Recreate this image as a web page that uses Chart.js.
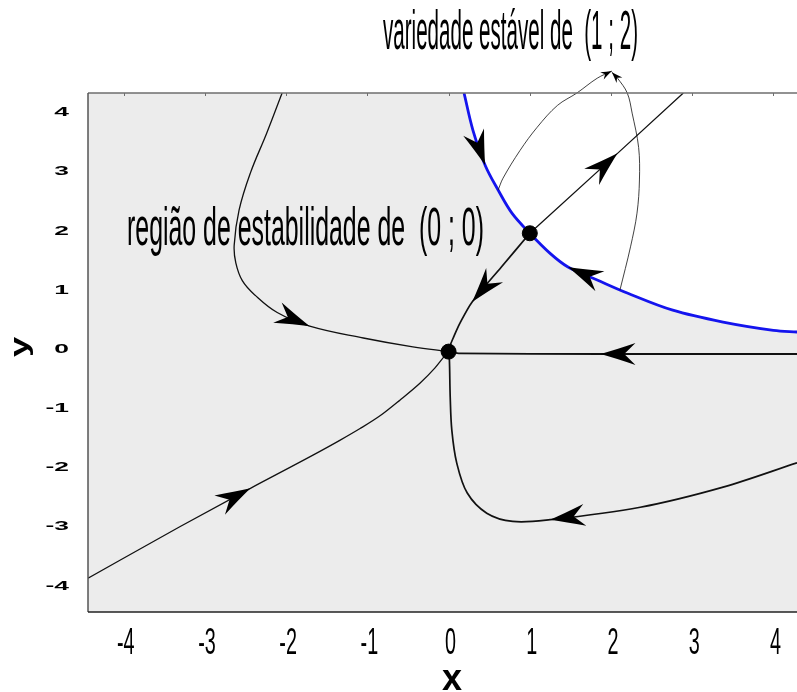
<!DOCTYPE html>
<html>
<head>
<meta charset="utf-8">
<script src="https://cdn.jsdelivr.net/npm/chart.js@4.4.1/dist/chart.umd.min.js"></script>
<style>
  html, body { margin: 0; padding: 0; background: #ffffff; }
  canvas { display: block; }
</style>
</head>
<body>
<canvas id="phase" width="797" height="692"></canvas>
<script>
// Tick values on both axes
const xTicks = [-4, -3, -2, -1, 0, 1, 2, 3, 4];
const yTicks = [-4, -3, -2, -1, 0, 1, 2, 3, 4];

// Equilibrium points
const equilibria = [[0, 0], [1, 2]];

// Stable manifold of (1 ; 2) (boundary of the stability region of the origin)
const stableManifold = [[0.19, 4.37], [0.30, 3.74], [0.45, 3.15], [0.61, 2.73], [0.78, 2.34], [1, 2],
  [1.25, 1.66], [1.47, 1.43], [1.83, 1.21], [2.20, 0.99], [2.76, 0.70], [3.38, 0.50], [4.00, 0.36], [4.30, 0.33]];

// Trajectories, each listed in the direction of the flow
const orbitUpperLeft = [[-2.05, 4.37], [-2.24, 3.69], [-2.44, 3.02], [-2.58, 2.39], [-2.64, 1.80], [-2.62, 1.50],
  [-2.54, 1.20], [-2.38, 0.95], [-2.11, 0.66], [-1.71, 0.43], [-1.05, 0.23], [-0.44, 0.08], [0, 0]];
const orbitLowerLeft = [[-4.44, -3.83], [-3.31, -2.96], [-2.44, -2.31], [-1.67, -1.75], [-1.34, -1.50], [-1.09, -1.30],
  [-0.84, -1.08], [-0.60, -0.82], [-0.35, -0.53], [-0.17, -0.28], [-0.04, -0.06], [0, 0]];
const orbitAxis = [[4.29, -0.04], [1.87, -0.04], [0.14, -0.03], [0, 0]];
const orbitLowerRight = [[4.29, -1.88], [3.38, -2.29], [2.36, -2.63], [1.25, -2.84], [0.79, -2.87], [0.47, -2.73],
  [0.23, -2.39], [0.10, -1.88], [0.04, -1.33], [0.02, -0.77], [0.01, -0.14], [0, 0]];
const unstableOut = [[1, 2], [2.08, 3.35], [2.89, 4.37]];
const unstableIn = [[1, 2], [0.65, 1.43], [0.29, 0.84], [0.14, 0.48], [0.06, 0.24], [0.015, 0.09], [0, 0]];

// Leader lines from the manifold up to its caption
const leaderLeft = [[0.61, 2.73], [0.67, 2.93], [0.88, 3.40], [1.09, 3.79], [1.34, 4.16], [1.58, 4.37], [1.83, 4.62], [2.01, 4.74]];
const leaderRight = [[2.11, 1.04], [2.24, 1.77], [2.32, 2.34], [2.35, 2.90], [2.34, 3.45], [2.26, 4.03], [2.20, 4.37], [2.08, 4.62], [2.01, 4.72]];

const X_MIN = -4.44, X_MAX = 4.29, Y_MIN = -4.40, Y_MAX = 4.37;
const FONT = '"Liberation Sans", Arial, sans-serif';

const toXY = pts => pts.map(([x, y]) => ({ x, y }));

function curve(label, pts, extra) {
  return Object.assign({
    label,
    data: toXY(pts),
    showLine: true,
    pointRadius: 0,
    pointHoverRadius: 0,
    borderColor: '#111111',
    borderWidth: 1.3,
    tension: 0.35,
    fill: false
  }, extra || {});
}

// Flow arrows: dataset label, index of the tip point, sense along the list
const flowArrows = [
  { set: 'manifold', at: 2, dir: 1 },
  { set: 'manifold', at: 7, dir: -1 },
  { set: 'upperLeft', at: 9, dir: 1 },
  { set: 'lowerLeft', at: 2, dir: 1 },
  { set: 'axis', at: 1, dir: 1 },
  { set: 'lowerRight', at: 3, dir: 1 },
  { set: 'out', at: 1, dir: 1 },
  { set: 'in', at: 2, dir: 1 },
  { set: 'leaderL', at: 7, dir: 1, small: true },
  { set: 'leaderR', at: 8, dir: 1, small: true }
];

function drawArrowHead(ctx, tx, ty, ux, uy, L, W) {
  const px = -uy, py = ux;
  const pt = (a, b) => [tx + ux * a + px * b, ty + uy * a + py * b];
  const w1 = pt(-L, W / 2), w2 = pt(-L, -W / 2), n = pt(-0.68 * L, 0);
  const c1 = pt(-0.45 * L, 0.2 * W), c2 = pt(-0.45 * L, -0.2 * W);
  ctx.beginPath();
  ctx.moveTo(tx, ty);
  ctx.quadraticCurveTo(c1[0], c1[1], w1[0], w1[1]);
  ctx.lineTo(n[0], n[1]);
  ctx.lineTo(w2[0], w2[1]);
  ctx.quadraticCurveTo(c2[0], c2[1], tx, ty);
  ctx.closePath();
  ctx.fill();
}

function stretchText(ctx, text, left, baseline, font, width) {
  ctx.save();
  ctx.font = font;
  const w = ctx.measureText(text).width;
  ctx.translate(left, baseline);
  ctx.scale(width / w, 1);
  ctx.textAlign = 'left';
  ctx.textBaseline = 'alphabetic';
  ctx.fillStyle = '#000';
  ctx.fillText(text, 0, 0);
  ctx.restore();
}

const panelPlugin = {
  id: 'panel',
  beforeDraw(chart) {
    const { ctx, chartArea: a } = chart;
    ctx.save();
    ctx.fillStyle = '#ffffff';
    ctx.fillRect(0, 0, chart.width, chart.height);
    ctx.fillStyle = '#ececec';
    ctx.fillRect(a.left, a.top, a.right - a.left, a.bottom - a.top);
    ctx.restore();
  },
  afterDatasetsDraw(chart) {
    const { ctx } = chart;
    const xs = chart.scales.x, ys = chart.scales.y;
    ctx.save();
    ctx.fillStyle = '#000';
    flowArrows.forEach(ar => {
      const ds = chart.data.datasets.find(d => d.label === ar.set);
      const tip = ds.data[ar.at];
      const prev = ds.data[ar.at - ar.dir];
      const tx = xs.getPixelForValue(tip.x), ty = ys.getPixelForValue(tip.y);
      const qx = xs.getPixelForValue(prev.x), qy = ys.getPixelForValue(prev.y);
      const len = Math.hypot(tx - qx, ty - qy) || 1;
      const L = ar.small ? 11 : 35, W = ar.small ? 8 : 22;
      drawArrowHead(ctx, tx, ty, (tx - qx) / len, (ty - qy) / len, L, W);
    });
    ctx.restore();
  },
  afterDraw(chart) {
    const { ctx, chartArea: a } = chart;
    const xs = chart.scales.x, ys = chart.scales.y;
    ctx.save();
    // frame
    ctx.lineWidth = 1.5;
    ctx.strokeStyle = '#6e6e6e';
    ctx.beginPath(); ctx.moveTo(a.left, a.top); ctx.lineTo(a.right, a.top); ctx.stroke();
    ctx.strokeStyle = '#555555';
    ctx.beginPath(); ctx.moveTo(a.left, a.top); ctx.lineTo(a.left, a.bottom); ctx.stroke();
    ctx.strokeStyle = '#222222';
    ctx.beginPath(); ctx.moveTo(a.left, a.bottom); ctx.lineTo(a.right, a.bottom); ctx.stroke();
    ctx.lineWidth = 1;
    ctx.strokeStyle = '#6e6e6e';
    xTicks.forEach(v => {
      const px = Math.round(xs.getPixelForValue(v)) + 0.5;
      ctx.beginPath(); ctx.moveTo(px, a.top); ctx.lineTo(px, a.top + 3); ctx.stroke();
    });

    ctx.fillStyle = '#000';
    // x tick labels (tall, narrow)
    xTicks.forEach(v => {
      const px = xs.getPixelForValue(v) + 2;
      ctx.save();
      ctx.translate(px, 654);
      ctx.scale(0.55, 1);
      ctx.font = '36px ' + FONT;
      ctx.textAlign = 'center';
      ctx.textBaseline = 'alphabetic';
      ctx.fillText(String(v), 0, 0);
      ctx.restore();
    });
    // y tick labels (short, wide)
    yTicks.forEach(v => {
      const py = ys.getPixelForValue(v) - 2;
      ctx.save();
      ctx.translate(69, py);
      ctx.scale(2.2, 1);
      ctx.font = 'bold 12px ' + FONT;
      ctx.textAlign = 'right';
      ctx.textBaseline = 'middle';
      ctx.fillText(String(v), 0, 0);
      ctx.restore();
    });
    // axis titles
    ctx.save();
    ctx.font = 'bold 36px ' + FONT;
    ctx.textAlign = 'center';
    ctx.textBaseline = 'alphabetic';
    ctx.fillText('x', 452, 690);
    ctx.restore();
    ctx.save();
    ctx.translate(24, 347);
    ctx.rotate(-Math.PI / 2);
    ctx.scale(1.45, 1);
    ctx.font = 'bold 25px ' + FONT;
    ctx.textAlign = 'center';
    ctx.textBaseline = 'alphabetic';
    ctx.fillText('y', 0, 4);
    ctx.restore();

    // captions
    stretchText(ctx, 'variedade estável de  (1 ; 2)', 383, 49, '56px ' + FONT, 255);
    stretchText(ctx, 'região de estabilidade de  (0 ; 0)', 127, 245, '53px ' + FONT, 357);
    ctx.restore();
  }
};

new Chart(document.getElementById('phase'), {
  type: 'scatter',
  data: {
    datasets: [
      {
        label: 'equilibria',
        data: toXY(equilibria),
        pointRadius: 7.5,
        pointBackgroundColor: '#000',
        pointBorderColor: '#000',
        showLine: false
      },
      curve('leaderL', leaderLeft, { borderWidth: 0.8, clip: false }),
      curve('leaderR', leaderRight, { borderWidth: 0.8, clip: false }),
      curve('upperLeft', orbitUpperLeft, { tension: 0.4 }),
      curve('lowerLeft', orbitLowerLeft, { cubicInterpolationMode: 'monotone' }),
      curve('axis', orbitAxis, { borderWidth: 1.9, tension: 0.2 }),
      curve('lowerRight', orbitLowerRight, { borderWidth: 1.7 }),
      curve('out', unstableOut, { tension: 0 }),
      curve('in', unstableIn, { borderWidth: 1.7, tension: 0.3 }),
      curve('manifold', stableManifold, {
        borderColor: '#1414ee',
        borderWidth: 2.8,
        fill: 'end',
        backgroundColor: '#ffffff'
      })
    ]
  },
  options: {
    responsive: false,
    animation: false,
    devicePixelRatio: 1,
    events: [],
    layout: { autoPadding: false, padding: { left: 88, top: 93, right: 0, bottom: 80 } },
    plugins: {
      legend: { display: false },
      tooltip: { enabled: false },
      filler: { drawTime: 'beforeDatasetsDraw' }
    },
    scales: {
      x: { type: 'linear', min: X_MIN, max: X_MAX, display: false },
      y: { type: 'linear', min: Y_MIN, max: Y_MAX, display: false }
    }
  },
  plugins: [panelPlugin]
});
</script>
</body>
</html>
